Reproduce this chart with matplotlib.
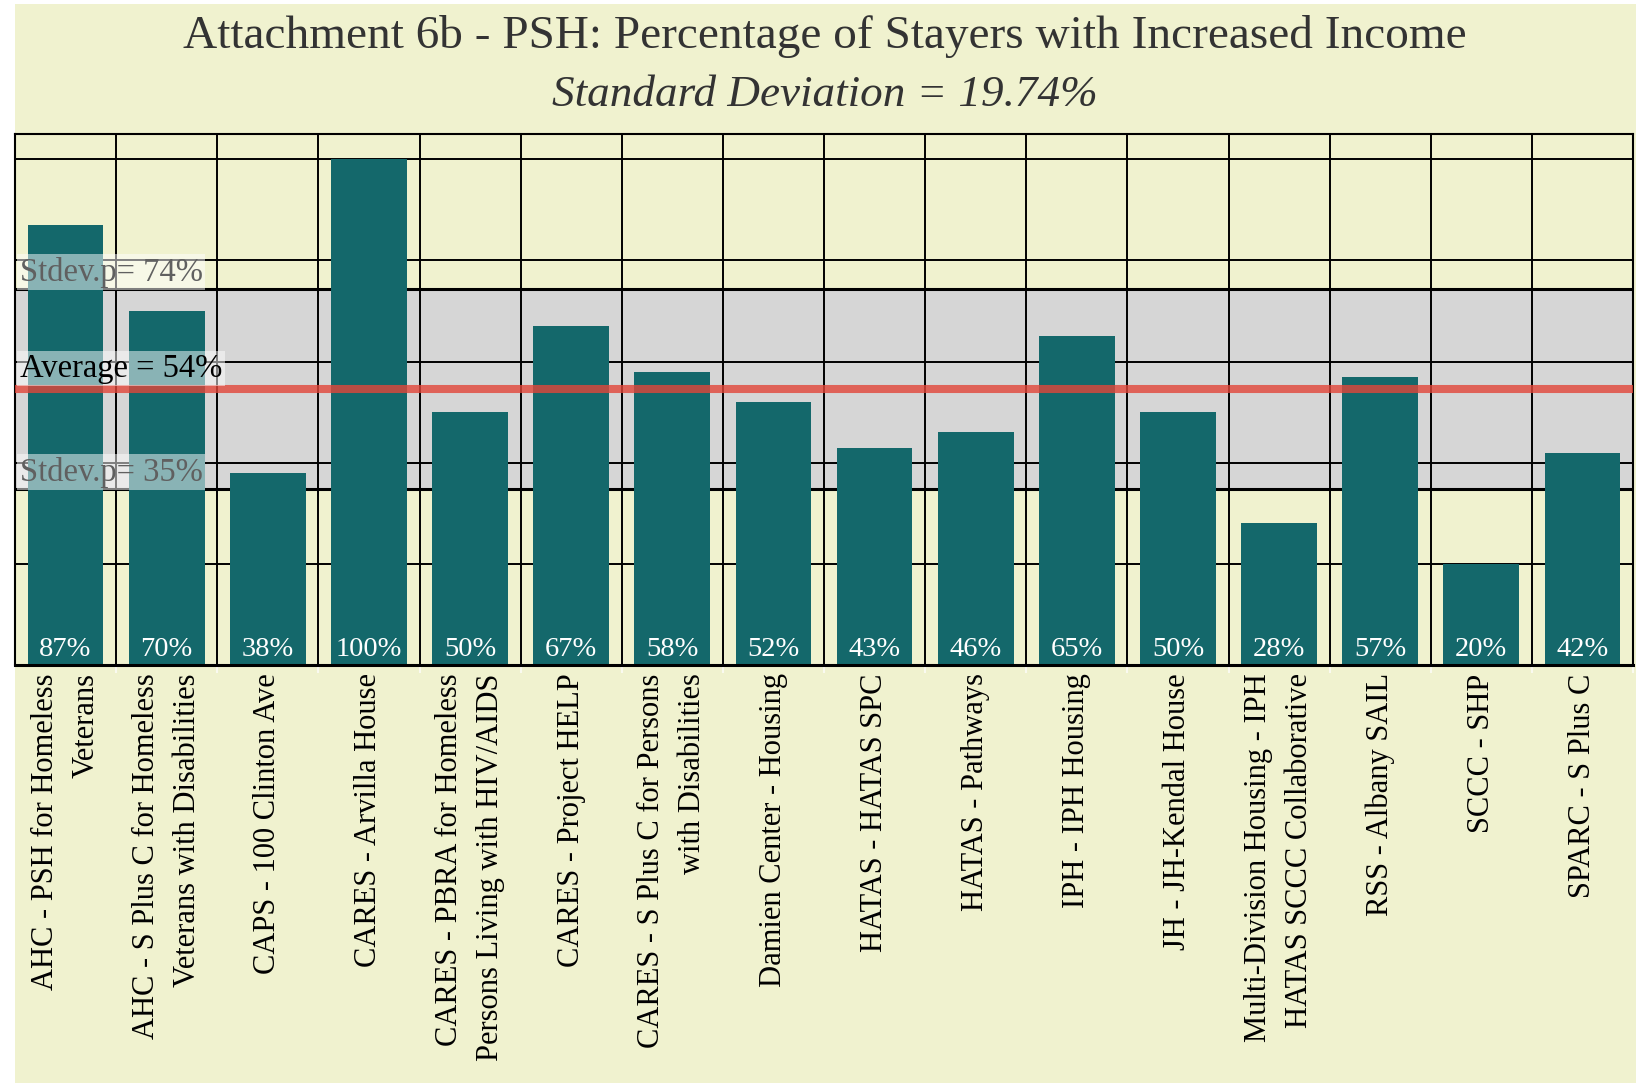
import matplotlib
matplotlib.use("Agg")
import matplotlib.pyplot as plt
from matplotlib.patches import Rectangle
import numpy as np

plt.rcParams['font.family'] = ['Liberation Serif', 'DejaVu Serif']

categories = [
    "AHC - PSH for Homeless\nVeterans",
    "AHC - S Plus C for Homeless\nVeterans with Disabilities",
    "CAPS - 100 Clinton Ave",
    "CARES - Arvilla House",
    "CARES - PBRA for Homeless\nPersons Living with HIV/AIDS",
    "CARES - Project HELP",
    "CARES - S Plus C for Persons\nwith Disabilities",
    "Damien Center - Housing",
    "HATAS - HATAS SPC",
    "HATAS - Pathways",
    "IPH - IPH Housing",
    "JH - JH-Kendal House",
    "Multi-Division Housing - IPH\nHATAS SCCC Collaborative",
    "RSS - Albany SAIL",
    "SCCC - SHP",
    "SPARC - S Plus C",
]
values = [87, 70, 38, 100, 50, 67, 58, 52, 43, 46, 65, 50, 28, 57, 20, 42]
average = 54.5
stdev_high = 74.3
stdev_low = 34.8
average_label = "Average = 54%"
stdev_high_label = "Stdev.p= 74%"
stdev_low_label = "Stdev.p= 35%"
gridlines = [0, 20, 40, 60, 80, 100]
title = "Attachment 6b - PSH: Percentage of Stayers with Increased Income"
subtitle = "Standard Deviation = 19.74%"

BG = '#f0f2cf'
BAR = '#14686b'
BAND = '#d6d6d6'

W, H = 1636, 1083
fig = plt.figure(figsize=(W / 100, H / 100), dpi=100)
fig.patch.set_facecolor('white')
fig.patches.append(Rectangle((15 / W, 0), 1 - 15 / W, 1 - 4 / H,
                             transform=fig.transFigure, facecolor=BG,
                             edgecolor='none', zorder=-10))

ax = fig.add_axes([15 / W, 1 - 665 / H, (1633 - 15) / W, (665 - 134) / H])
ax.set_facecolor(BG)
x = np.arange(len(values))

ax.axhspan(stdev_low, stdev_high, facecolor=BAND, edgecolor='none', zorder=0.2)
ax.set_axisbelow(True)
ax.set_yticks(gridlines)
ax.yaxis.grid(True, color='black', lw=1.4)
ax.set_xticks(x + 0.5, minor=True)
ax.xaxis.grid(True, which='minor', color='black', lw=1.4)
ax.axhline(stdev_high, color='black', lw=2.2, zorder=1.5)
ax.axhline(stdev_low, color='black', lw=2.2, zorder=1.5)

ax.bar(x, values, width=0.75, color=BAR, zorder=2)
ax.axhline(average, color='#e24539', lw=5.8, alpha=0.8, zorder=3)

for xi, v in zip(x, values):
    ax.text(xi, 1.8, f"{v}%", ha='center', va='baseline', color='white',
            fontsize=20.5, zorder=5)

box = dict(boxstyle='square,pad=0.08', facecolor='white', edgecolor='none', alpha=0.5)
ax.annotate(stdev_high_label, xy=(-0.5, stdev_high), xytext=(3.5, 1),
            textcoords='offset points', ha='left', va='bottom', fontsize=23.5,
            color='#606060', bbox=box, zorder=6)
ax.annotate(average_label, xy=(-0.5, average), xytext=(3.5, 4),
            textcoords='offset points', ha='left', va='bottom', fontsize=23.5,
            color='black', bbox=box, zorder=6)
ax.annotate(stdev_low_label, xy=(-0.5, stdev_low), xytext=(3.5, 1),
            textcoords='offset points', ha='left', va='bottom', fontsize=23.5,
            color='#606060', bbox=box, zorder=6)

ax.set_xlim(-0.5, len(values) - 0.5)
ax.set_ylim(0, 105)
ax.set_xticks(x)
ax.set_xticklabels(categories, rotation=90, ha='center', va='top',
                   multialignment='right', fontsize=22, color='black',
                   linespacing=1.55)
ax.tick_params(axis='x', which='major', length=0, pad=6)
ax.tick_params(axis='x', which='minor', length=6, color='#fafaf0', width=1.5)
ax.tick_params(axis='y', length=0, labelleft=False)
for s in ['top', 'left', 'right']:
    ax.spines[s].set_linewidth(1.5)
    ax.spines[s].set_color('black')
ax.spines['bottom'].set_linewidth(2.2)
ax.spines['bottom'].set_color('black')

fig.text(825 / W, 1 - 37 / H, title, ha='center', va='center',
         fontsize=34, color='#333333')
fig.text(825 / W, 1 - 95 / H, subtitle, ha='center', va='center',
         fontsize=32.5, color='#333333', style='italic')

fig.savefig('out.png', dpi=100, facecolor=fig.get_facecolor())
